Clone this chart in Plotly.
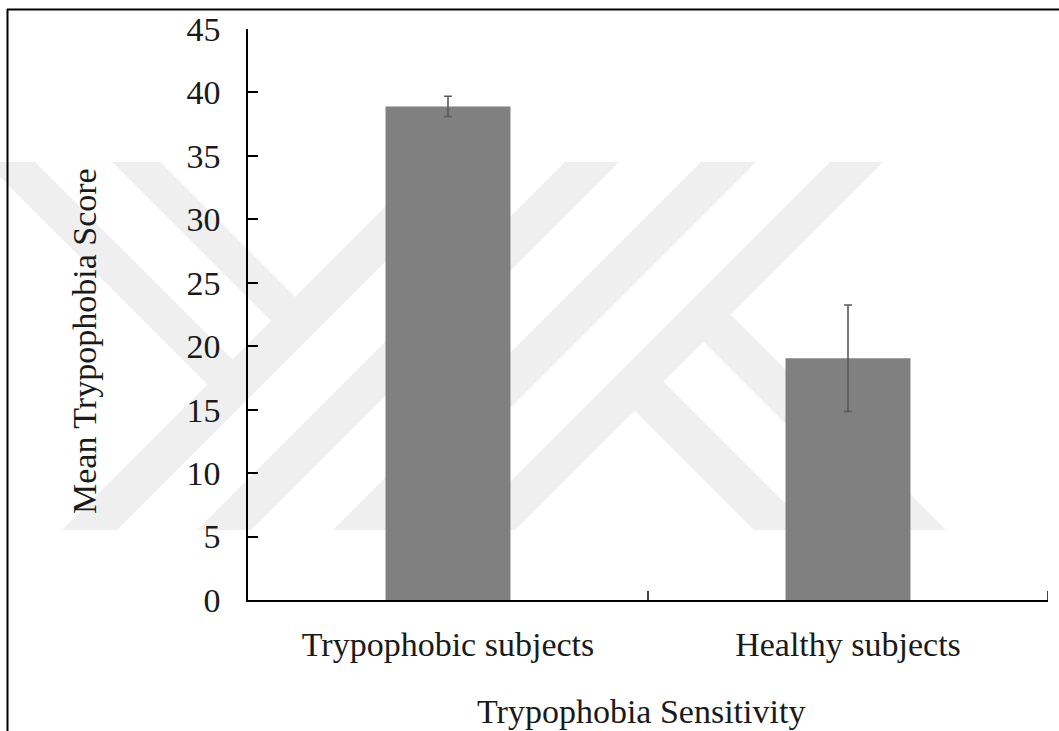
import plotly.graph_objects as go

# Data
categories = ["Trypophobic subjects", "Healthy subjects"]
mean_scores = [38.9, 19.05]
score_errors = [0.8, 4.2]
y_ticks = [0, 5, 10, 15, 20, 25, 30, 35, 40, 45]

W, H = 1059, 731
L, R, T, B = 248, 11, 29, 131
PW, PH = W - L - R, H - T - B


def px(x, y):
    """Pixel position -> paper coordinates."""
    return (x - L) / PW, (H - B - y) / PH


def poly(points):
    parts = []
    for i, (x, y) in enumerate(points):
        u, v = px(x, y)
        parts.append(("M" if i == 0 else "L") + f"{u:.5f},{v:.5f}")
    return " ".join(parts) + " Z"


# Faint background emblem: 45-degree bands
TOP, BOT = 162, 530


def rising_band(a, b):
    # band where a <= x + y <= b, cut flat at TOP and BOT
    return [(a - TOP, TOP), (b - TOP, TOP), (b - BOT, BOT), (a - BOT, BOT)]


def falling_from_top(c, d, stop):
    # band where c <= x - y <= d, from TOP down to the line x + y = stop
    return [(c + TOP, TOP), (d + TOP, TOP),
            ((stop + d) / 2, (stop - d) / 2), ((stop + c) / 2, (stop - c) / 2)]


def falling_to_bottom(c, d, start):
    # band where c <= x - y <= d, from the line x + y = start down to BOT
    return [((start + c) / 2, (start - c) / 2), ((start + d) / 2, (start - d) / 2),
            (d + BOT, BOT), (c + BOT, BOT)]


emblem = [
    rising_band(592, 647),
    rising_band(727, 781),
    rising_band(863, 918),
    rising_band(992, 1045),
    falling_from_top(-177, -127, 600),
    falling_from_top(-50, -2, 600),
    falling_to_bottom(362, 416, 1035),
    falling_to_bottom(224, 282, 1035),
]

shapes = []
for pts in emblem:
    shapes.append(dict(type="path", xref="paper", yref="paper", path=poly(pts),
                       fillcolor="#efefef", line=dict(width=0), layer="below"))

# Outer frame (top and left edges)
x0, y0 = px(7, 9.5)
x1, _ = px(W + 2, 9.5)
shapes.append(dict(type="line", xref="paper", yref="paper", x0=x0, y0=y0, x1=x1, y1=y0,
                   line=dict(color="black", width=2), layer="above"))
fx, fy0 = px(7.5, 9)
_, fy1 = px(7.5, H + 2)
shapes.append(dict(type="line", xref="paper", yref="paper", x0=fx, y0=fy0, x1=fx, y1=fy1,
                   line=dict(color="black", width=2), layer="above"))

fig = go.Figure(go.Bar(
    x=categories,
    y=mean_scores,
    width=0.3125,
    marker=dict(color="#808080", line=dict(width=0)),
    error_y=dict(type="data", array=score_errors, visible=True,
                 color="#595959", thickness=1.6, width=4),
))

font_family = "Liberation Serif, Times New Roman, serif"
FS = 34

fig.update_layout(
    width=W, height=H,
    margin=dict(l=L, r=R, t=T, b=B, pad=0),
    paper_bgcolor="white",
    plot_bgcolor="rgba(0,0,0,0)",
    showlegend=False,
    font=dict(family=font_family, size=FS, color="#1a1a1a"),
    shapes=shapes,
    xaxis=dict(
        range=[-0.5, 1.5],
        showline=True, linecolor="black", linewidth=1.5,
        ticks="", showgrid=False, zeroline=False,
        tickfont=dict(size=FS, family=font_family, color="#1a1a1a"),
        ticklabelstandoff=13,
        fixedrange=True,
    ),
    yaxis=dict(
        range=[0, 45],
        tickvals=y_ticks,
        showline=True, linecolor="black", linewidth=1.5,
        ticks="inside", ticklen=10, tickwidth=1.5, tickcolor="black",
        showgrid=False, zeroline=False,
        tickfont=dict(size=FS, family=font_family, color="#1a1a1a"),
        ticklabelstandoff=19,
        fixedrange=True,
    ),
    annotations=[
        dict(text="Mean Trypophobia Score", xref="paper", yref="paper",
             x=px(85, 341)[0], y=px(85, 341)[1], textangle=-90, showarrow=False,
             xanchor="center", yanchor="middle",
             font=dict(size=FS, family=font_family, color="#1a1a1a")),
        dict(text="Trypophobia Sensitivity", xref="paper", yref="paper",
             x=px(641, 711)[0], y=px(641, 711)[1], showarrow=False,
             xanchor="center", yanchor="middle",
             font=dict(size=FS, family=font_family, color="#1a1a1a")),
    ],
)

# Inside tick marks on the category axis at the category boundaries
for xb in [0.5, 1.5]:
    fig.add_shape(type="line", xref="x", yref="paper", x0=xb, x1=xb, y0=0, y1=9 / PH,
                  line=dict(color="black", width=1.5))

fig.write_html("out.html")
